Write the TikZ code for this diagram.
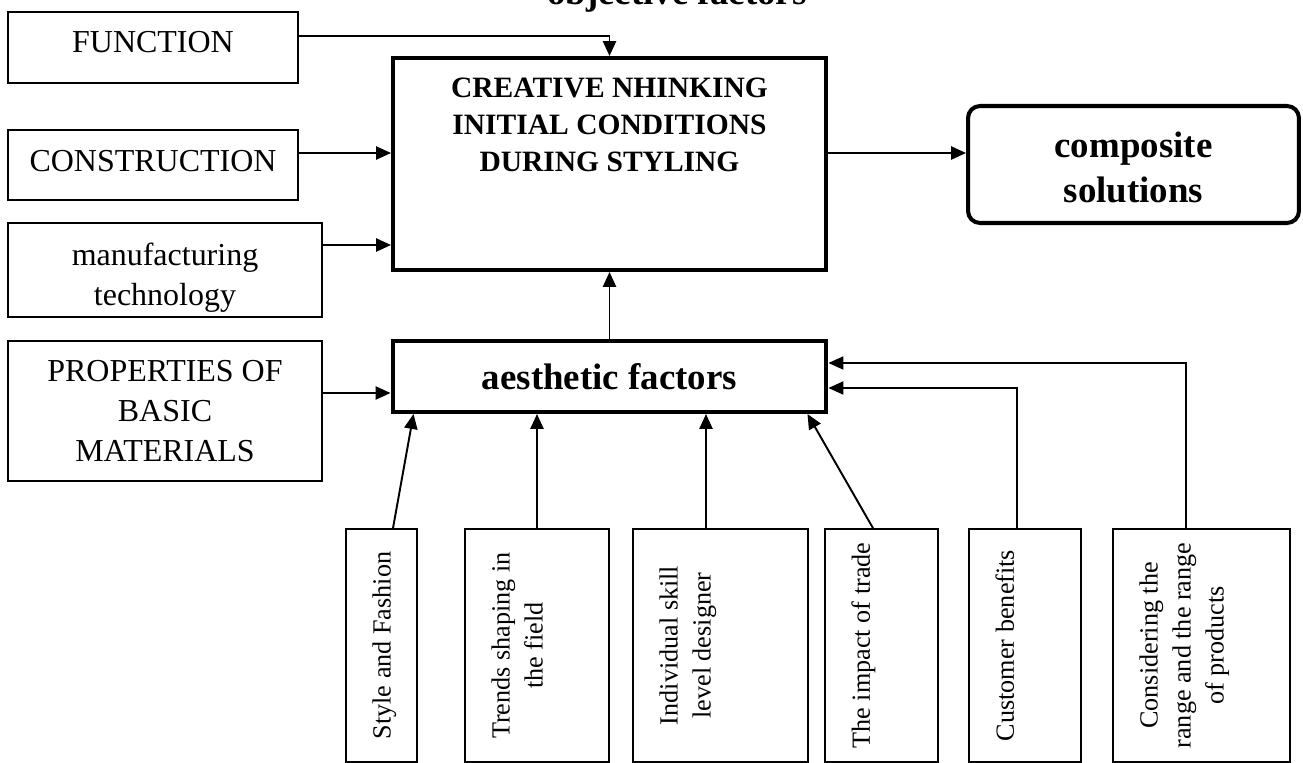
\documentclass[tikz,border=0pt]{standalone}
\usepackage{fontspec}
\setmainfont{Liberation Serif}
\usetikzlibrary{arrows.meta}

\begin{document}
\begin{tikzpicture}[x=0.02cm,y=-0.02cm,
  inbox/.style={draw,line width=1pt,inner sep=0pt,align=center,font=\fontsize{18.2}{22.8}\selectfont},
  thickbox/.style={draw,line width=2.3pt,inner sep=0pt,align=center},
  factor/.style={draw,line width=1pt,minimum height=4.66cm},
  vtext/.style={rotate=90,anchor=north,inner sep=0pt,align=center,font=\fontsize{14.9}{18.8}\selectfont},
  arr/.style={-{Triangle[length=8.5pt,width=7.5pt]},line width=1.1pt}]
\useasboundingbox (0,0) rectangle (1303,763);
\node[font=\bfseries\fontsize{21}{25}\selectfont,anchor=base west,inner sep=0pt] (title) at (547,5) {objective factors};
% left column
\node[inbox,minimum width=5.8cm,minimum height=1.42cm,text depth=6pt] (func) at (153,47.5) {FUNCTION};
\node[inbox,minimum width=5.8cm,minimum height=1.4cm,text depth=5pt] (constr) at (153,165) {CONSTRUCTION};
\node[inbox,minimum width=6.28cm,minimum height=1.88cm,text height=40pt,text depth=0pt] (manuf) at (165,270) {manufacturing\\technology};
\node[inbox,minimum width=6.28cm,minimum height=2.8cm] (props) at (165,411) {PROPERTIES OF\\BASIC\\MATERIALS};
% centre and right
\node[thickbox,minimum width=8.66cm,minimum height=4.24cm] (main) at (609.5,164) {};
\node[font=\bfseries\fontsize{16.8}{21}\selectfont,align=center,anchor=north,inner sep=0pt] (main-t) at ([shift={(0,22)}]main.north) {CREATIVE NHINKING\\INITIAL CONDITIONS\\DURING STYLING};
\node[thickbox,minimum width=8.68cm,minimum height=1.42cm,font=\bfseries\fontsize{21}{25}\selectfont] (aesth) at (609.5,376.5) {aesthetic factors};
\node[thickbox,rounded corners=0.24cm,minimum width=6.62cm,minimum height=2.34cm,text height=44pt,font=\bfseries\fontsize{21}{25.6}\selectfont] (compo) at (1133.5,164.5) {composite\\solutions};
% bottom row
\foreach \nm/\x/\w/\t in {style/381.5/1.42/{Style and Fashion},
    trend/537/2.88/{Trends shaping in\\the field},
    indiv/720.5/3.5/{Individual skill\\level designer},
    trade/881.5/2.26/{The impact of trade},
    custo/1025/2.24/{Customer benefits},
    range/1201.5/3.54/{Considering the\\range and the range\\of products}}
  {\node[factor,minimum width=\w cm] (\nm) at (\x,645.5) {};
   \node[vtext] (\nm-t) at ([shift={(27,0)}]\nm.west) {\t};}
% connectors
\draw[arr] ([shift={(0,-11.5)}]func.east) -| (main.north);
\draw[arr] ([shift={(0,-12)}]constr.east) -- ([shift={(0,-12)}]constr.east -| main.west);
\draw[arr] ([shift={(0,-25)}]manuf.east) -- ([shift={(0,-25)}]manuf.east -| main.west);
\draw[arr] ([shift={(0,-18)}]props.east) -- ([shift={(0,-18)}]props.east -| aesth.west);
\draw[arr] ([shift={(0,-11)}]main.east) -- ([shift={(0,-11)}]main.east -| compo.west);
\draw[arr] (aesth.north) -- (main.south);
\draw[arr] ([shift={(11.5,0)}]style.north) -- ([shift={(23,0)}]aesth.south west);
\draw[arr] (trend.north) -- (trend.north |- aesth.south);
\draw[arr] ([shift={(-14.5,0)}]indiv.north) -- ([shift={(-14.5,0)}]indiv.north |- aesth.south);
\draw[arr] ([shift={(-8.5,0)}]trade.north) -- ([shift={(-21,0)}]aesth.south east);
\draw[arr,line width=0.9pt] ([shift={(-8,0)}]custo.north) |- ([shift={(0,11.5)}]aesth.east);
\draw[arr,line width=0.9pt] ([shift={(-15.5,0)}]range.north) |- ([shift={(0,-13.5)}]aesth.east);
\end{tikzpicture}
\end{document}
